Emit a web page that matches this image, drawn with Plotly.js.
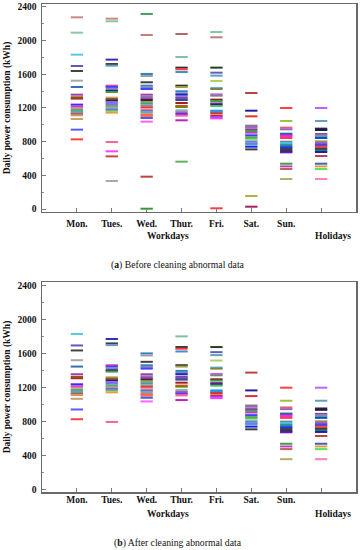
<!DOCTYPE html>
<html>
<head>
<meta charset="utf-8">
<script src="https://cdn.plot.ly/plotly-3.0.1.min.js"></script>
<style>html,body{margin:0;padding:0;background:#fff;}#chart{width:360px;height:550px;}</style>
</head>
<body>
<div id="chart"></div>
<script>
// ---- data ----
const categories = ['Mon.', 'Tues.', 'Wed.', 'Thur.', 'Fri.', 'Sat.', 'Sun.', ''];
const groupLabels = ['Workdays', 'Holidays'];

const monNormal = [1833,1698,1639,1524,1449,1358,1327,1311,1240,1216,1200,1176,1160,1145,1129,1113,1069,943,828];
const monAbnormal = [2276,2094];
const tueNormal = [1774,1722,1702,1465,1449,1429,1406,1390,1323,1307,1287,1267,1247,1224,1208,1184,1168,1145,796];
const tueAbnormal = [2260,2229,686,626,334];
const wedNormal = [1604,1580,1505,1465,1445,1425,1358,1334,1315,1295,1271,1251,1228,1208,1188,1168,1149,1125,1105,1081,1038];
const wedAbnormal = [2316,2066,385,5];
const thuNormal = [1805,1679,1659,1627,1465,1449,1398,1374,1358,1327,1311,1295,1259,1224,1212,1172,1149,1129,1109,1054];
const thuAbnormal = [2078,563];
const friNormal = [1679,1619,1584,1520,1437,1425,1362,1346,1299,1283,1255,1240,1224,1168,1153,1137,1109,1093,1077];
const friAbnormal = [2102,2039,10];
const satNormal = [1378,1168,1101,990,975,947,927,907,876,852,836,804,781,769,741,709];
const satAbnormal = [156,29];
const sunNormal = [1200,1046,967,947,895,880,864,844,800,781,761,741,725,705,686,674,539,507,476,357];
const sunAbnormal = [];
const holNormal = [1200,1046,955,939,891,875,860,844,804,789,769,753,733,713,694,678,630,539,507,476,357];
const holAbnormal = [];

// ---- colours (style, kept apart from the data) ----
const monNormalC = ['#5bc8e0','#5b5bbf','#444444','#a8a8a8','#3a6fb5','#a040a0','#806010','#b03030','#5a1aff','#9050d0','#ff70a8','#40c040','#20c0a0','#ff50e0','#40a040','#e09060','#c8a070','#5a5aff','#ff4040'];
const monAbnormalC = ['#c88888','#88c8a0'];
const tueNormalC = ['#3030c0','#404040','#60a0c8','#e040c0','#4040ff','#9080c0','#202090','#40a040','#c8a860','#806030','#402040','#a060ff','#6080ff','#60b040','#a0a0a0','#6060ff','#60c060','#e0a040','#ff6098'];
const tueAbnormalC = ['#c88888','#88c8a0','#ff40ff','#c04848','#a8a8a8'];
const wedNormalC = ['#3080c0','#a0a0a0','#404040','#4080c0','#8080c0','#4040ff','#a040a0','#8080a0','#a040c0','#402040','#a0a040','#40a0a0','#909090','#e04040','#e8a0a0','#a050c0','#40c0c0','#ff6060','#ff7040','#4060ff','#ff60ff'];
const wedAbnormalC = ['#40a060','#c08080','#c04040','#30a030'];
const thuNormalC = ['#80c0a0','#303030','#ff4040','#4090d0','#303030','#a0a040','#3080c0','#8080c0','#2020c0','#8040c0','#6060a0','#4040a0','#a02020','#e04020','#808000','#60c0c0','#e040a0','#4040ff','#ff60a0','#c020c0'];
const thuAbnormalC = ['#b06868','#60b060'];
const friNormalC = ['#204020','#6060c0','#60a0c0','#b0d060','#60b0e0','#808040','#c060ff','#808080','#802020','#40a040','#8040c0','#402040','#40c080','#4080ff','#20a0c0','#c04040','#e02020','#a040ff','#ff40ff'];
const friAbnormalC = ['#88c8a0','#c08080','#ff4040'];
const satNormalC = ['#c04040','#2020a0','#e03030','#808080','#a060c0','#8040a0','#40a040','#c040c0','#4040ff','#40a040','#60c060','#6090c0','#8060e0','#40a0e0','#2020e0','#404040'];
const satAbnormalC = ['#b0b040','#a02060'];
const sunNormalC = ['#ff4040','#a0c040','#e06080','#a060c0','#207080','#8040c0','#ff20ff','#ff4040','#6090a0','#40c0e0','#20a080','#4040ff','#2040c0','#404040','#202020','#6020c0','#40a040','#c040c0','#c06060','#b0b060'];
const sunAbnormalC = [];
const holNormalC = ['#c060ff','#60a0c0','#202080','#202020','#8040c0','#a080c0','#40c040','#2040ff','#a0a020','#a060c0','#4040ff','#8040a0','#e04040','#404040','#208080','#2020a0','#c04050','#4060c0','#e0a040','#60e060','#ff80c0'];
const holAbnormalC = [];

const normal = [monNormal,tueNormal,wedNormal,thuNormal,friNormal,satNormal,sunNormal,holNormal];
const abnormal = [monAbnormal,tueAbnormal,wedAbnormal,thuAbnormal,friAbnormal,satAbnormal,sunAbnormal,holAbnormal];
const normalC = [monNormalC,tueNormalC,wedNormalC,thuNormalC,friNormalC,satNormalC,sunNormalC,holNormalC];
const abnormalC = [monAbnormalC,tueAbnormalC,wedAbnormalC,thuAbnormalC,friAbnormalC,satAbnormalC,sunAbnormalC,holAbnormalC];

function build(withAbnormal) {
  const x = [], y = [], c = [];
  normal.forEach((arr, i) => arr.forEach((v, j) => { x.push(i + 1); y.push(v); c.push(normalC[i][j]); }));
  if (withAbnormal) abnormal.forEach((arr, i) => arr.forEach((v, j) => { x.push(i + 1); y.push(v); c.push(abnormalC[i][j]); }));
  return {x, y, c};
}

const serif = 'Liberation Serif, Times New Roman, serif';
function dashTrace(d, xa, ya) {
  return {
    type: 'scatter', mode: 'markers', x: d.x, y: d.y, xaxis: xa, yaxis: ya,
    marker: {symbol: 'line-ew', size: 8.8, color: d.c, line: {color: d.c, width: 2}},
    hoverinfo: 'y', showlegend: false
  };
}
const before = build(true), after = build(false);

const tickFont = {family: serif, size: 9.5, color: '#111', weight: 'bold'};
const xCommon = {
  range: [0, 9], tickvals: [1,2,3,4,5,6,7,8], ticktext: categories,
  ticks: 'inside', ticklen: 4, tickcolor: '#777', tickwidth: 1,
  showline: true, linecolor: '#6a6a6a', linewidth: 1.5, mirror: true,
  showgrid: false, zeroline: false, tickfont: tickFont, fixedrange: true
};
const yCommon = {
  tickvals: [0,400,800,1200,1600,2000,2400],
  ticks: 'inside', ticklen: 4, tickcolor: '#777', tickwidth: 1,
  minor: {tickvals: [200,600,1000,1400,1800,2200], ticks: 'inside', ticklen: 2, tickcolor: '#888'},
  showline: true, linecolor: '#6a6a6a', linewidth: 1.5, mirror: true,
  showgrid: false, zeroline: false, tickfont: tickFont, ticklabelstandoff: 2,
  title: {text: 'Daily power consumption (kWh)', font: {family: serif, size: 9.5, color: '#111', weight: 'bold'}, standoff: 5},
  fixedrange: true
};

const layout = {
  width: 360, height: 550,
  margin: {l: 42, r: 4, t: 4, b: 58},
  paper_bgcolor: '#fff', plot_bgcolor: '#fff',
  font: {family: serif, color: '#111'},
  xaxis: Object.assign({}, xCommon, {anchor: 'y', ticklabelstandoff: 2}),
  yaxis: Object.assign({}, yCommon, {domain: [0.5738, 1], range: [-34, 2434], anchor: 'x'}),
  xaxis2: Object.assign({}, xCommon, {anchor: 'y2', ticklabelstandoff: -2}),
  yaxis2: Object.assign({}, yCommon, {domain: [0, 0.4303], range: [-30, 2446], anchor: 'x2'}),
  annotations: [
    {xref: 'x', yref: 'paper', x: 3.6, y: 0.5246, text: groupLabels[0], showarrow: false, yanchor: 'middle', font: tickFont},
    {xref: 'x', yref: 'paper', x: 8.33, y: 0.5246, text: groupLabels[1], showarrow: false, yanchor: 'middle', font: tickFont},
    {xref: 'x2', yref: 'paper', x: 3.6, y: -0.0445, text: groupLabels[0], showarrow: false, yanchor: 'middle', font: tickFont},
    {xref: 'x2', yref: 'paper', x: 8.33, y: -0.0445, text: groupLabels[1], showarrow: false, yanchor: 'middle', font: tickFont},
    {xref: 'paper', yref: 'paper', x: 0.4347, y: 0.4658, text: '(<b>a</b>) Before cleaning abnormal data', showarrow: false, yanchor: 'middle', font: {family: serif, size: 9.7, color: '#111'}},
    {xref: 'paper', yref: 'paper', x: 0.4347, y: -0.1039, text: '(<b>b</b>) After cleaning abnormal data', showarrow: false, yanchor: 'middle', font: {family: serif, size: 9.7, color: '#111'}}
  ]
};

Plotly.newPlot('chart', [dashTrace(before, 'x', 'y'), dashTrace(after, 'x2', 'y2')], layout, {displayModeBar: false, staticPlot: true});
</script>
</body>
</html>
